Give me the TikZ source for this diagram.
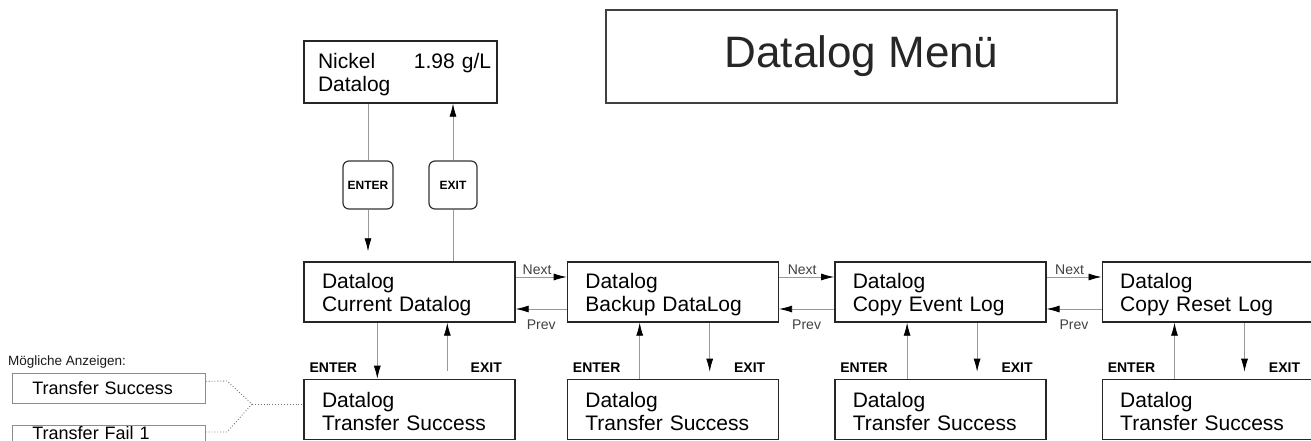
\documentclass[tikz,border=0pt]{standalone}
\usepackage{fontspec}
\setmainfont{Liberation Sans}
\usetikzlibrary{arrows.meta,positioning}
\tikzset{lcd/.style={draw=black!85,line width=1.4pt,minimum width=211pt,minimum height=60pt,
                     text width=175pt,inner xsep=18pt,align=left,
                     font=\fontsize{21}{23}\selectfont}}
\tikzset{key/.style={draw=black!80,line width=1.2pt,rounded corners=6pt,minimum width=50pt,
                     minimum height=48pt,inner sep=0pt,font=\fontsize{12}{12}\selectfont\bfseries}}
\tikzset{flow/.style={draw=black!40,line width=0.8pt}}
\tikzset{tip/.style={-{Latex[color=black,length=13pt,width=7pt]}}}
\tikzset{keylbl/.style={anchor=base,inner sep=0pt,font=\fontsize{14}{14}\selectfont\bfseries}}
\tikzset{navlbl/.style={inner sep=2pt,text=black!75,font=\fontsize{14}{14}\selectfont}}
\tikzset{option/.style={draw=black!45,line width=0.8pt,anchor=north west,minimum width=193pt,
                        minimum height=30pt,text width=153pt,inner xsep=20pt,align=left,
                        font=\fontsize{18}{20}\selectfont}}
\tikzset{link/.style={draw=black!55,dotted,line width=0.9pt}}

\begin{document}
\begin{tikzpicture}[x=1pt,y=-1pt,>=Latex]
  \clip (0,0) rectangle (1311,441);

  % Title and main display
  \node (menu) [draw=black!75,line width=1.6pt,minimum width=511pt,minimum height=93pt,
                text=black!85,font=\fontsize{44}{44}\selectfont] at (861.5,56.5) {Datalog Menü};
  \node (disp) [lcd,minimum width=193pt,minimum height=62pt,text width=165pt,inner xsep=14pt]
        at (400.5,72) {\rule{0pt}{20pt}\mbox{\makebox[96pt][l]{Nickel}1.98 g/L}\\Datalog};

  % Keys between display and first menu entry
  \node (kenter) [key] at (368,185) {ENTER};
  \node (kexit)  [key,minimum width=48pt] at (453,185) {EXIT};

  % Menu entries
  \node (cur) [lcd] at (409.5,292) {\rule{0pt}{20pt}Datalog\\Current Datalog};
  \node (bak) [lcd,right=51pt of cur] {\rule{0pt}{20pt}Datalog\\Backup DataLog};
  \node (evt) [lcd,right=55pt of bak] {\rule{0pt}{20pt}Datalog\\Copy Event Log};
  \node (rst) [lcd,right=55pt of evt] {\rule{0pt}{20pt}Datalog\\Copy Reset Log};

  % Transfer displays
  \node (tcur) [lcd,below=56pt of cur] {\rule{0pt}{20pt}Datalog\\Transfer Success};
  \node (tbak) [lcd,below=56pt of bak] {\rule{0pt}{20pt}Datalog\\Transfer Success};
  \node (tevt) [lcd,below=56pt of evt] {\rule{0pt}{20pt}Datalog\\Transfer Success};
  \node (trst) [lcd,below=56pt of rst] {\rule{0pt}{20pt}Datalog\\Transfer Success};

  % Display <-> first entry
  \draw[flow] (kenter |- disp.south) -- (kenter.north);
  \draw[flow,tip,shorten >=10pt] (kenter.south) -- (kenter |- cur.north);
  \draw[flow] (kexit |- cur.north) -- (kexit.south);
  \draw[flow,tip] (kexit.north) -- (kexit |- disp.south);

  % Next / Prev
  \foreach \a/\b/\n in {cur/bak/1,bak/evt/2,evt/rst/3} {
    \draw[flow,tip] ([yshift=15pt]\a.east) -- node[navlbl,above,pos=0.42] (nx\n) {Next} ([yshift=15pt]\b.west);
    \draw[flow,tip] ([yshift=-17pt]\b.west) -- node[navlbl,below=8pt,pos=0.5] (pv\n) {Prev} ([yshift=-17pt]\a.east);
  }

  % Entry <-> transfer display
  \draw[flow,tip] ([xshift=74pt]cur.south west) -- ([xshift=74pt]tcur.north west);
  \draw[flow,tip,shorten <=8pt] ([xshift=144pt]tcur.north west) -- ([xshift=144pt]cur.south west);
  \foreach \a/\b in {bak/tbak,evt/tevt,rst/trst} {
    \draw[flow,tip] ([xshift=73pt]\b.north west) -- ([xshift=73pt]\a.south west);
    \draw[flow,tip,shorten >=7pt] ([xshift=143pt]\a.south west) -- ([xshift=143pt]\b.north west);
  }
  \foreach \b in {tcur,tbak,tevt,trst} {
    \node[keylbl] (en\b) at ([xshift=30pt,yshift=6pt]\b.north west) {ENTER};
    \node[keylbl] (ex\b) at ([xshift=183pt,yshift=6pt]\b.north west) {EXIT};
  }

  % Possible messages
  \node (lblopt) [anchor=base west,inner sep=0pt,text=black!90,font=\fontsize{13.5}{14}\selectfont]
        at (8,365) {Mögliche Anzeigen:};
  \node (opt1) [option] at (12,373) {Transfer Success};
  \node (opt2) [option,draw=none,minimum height=15.5pt,inner ysep=1pt,text height=13pt,text depth=0pt]
        at (12,425) {Transfer Fail 1};
  \draw[draw=black!45,line width=0.8pt] ([yshift=-4pt]opt2.south west) -- (opt2.north west)
        -- (opt2.north east) -- ([yshift=-4pt]opt2.south east);
  \coordinate (fa) at (227,381);
  \coordinate (fb) at (227,432);
  \coordinate (fork) at (252,404);
  \draw[link] ([yshift=7pt]opt1.east) -- (fa) -- (fork) -- (fb) -- (fb -| opt2.east);
  \draw[link] (fork) -- (fork -| tcur.west);
\end{tikzpicture}
\end{document}
